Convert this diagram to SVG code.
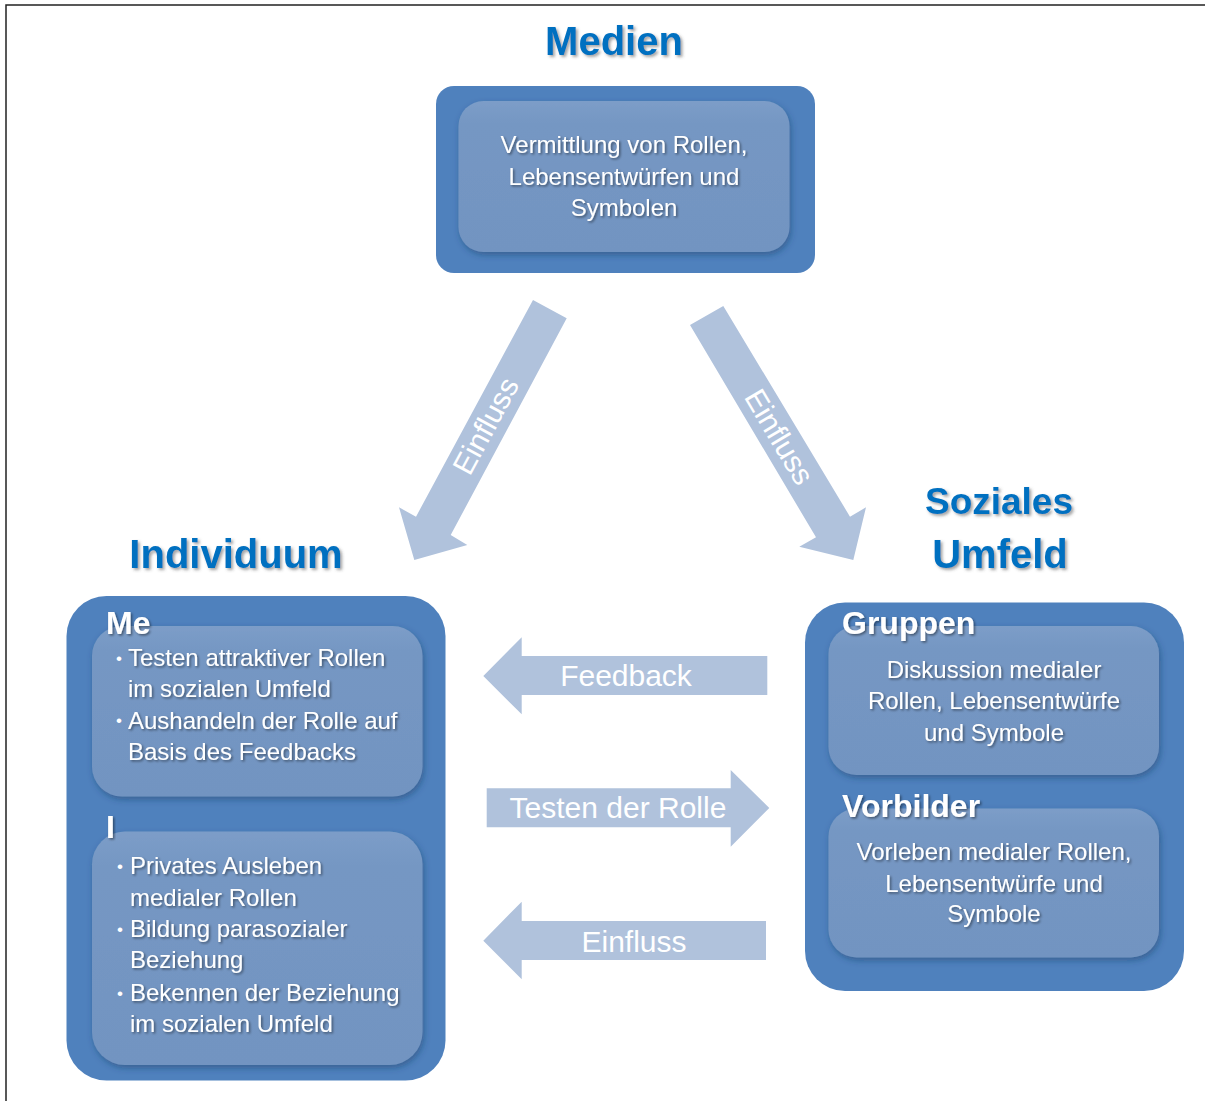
<svg xmlns="http://www.w3.org/2000/svg" width="1205" height="1101" viewBox="0 0 1205 1101">
  <style>
    .outer { fill: #4f81bd; }
    .inner { fill: url(#innerGrad); filter: url(#boxShadow); }
    .arrow { fill: #b0c2dc; }
    .title { font-family: "Liberation Sans", Arial, sans-serif; font-weight: bold; font-size: 40px; fill: #0070c0; filter: url(#titleShadow); text-anchor: middle; }
    .label { font-family: "Liberation Sans", Arial, sans-serif; font-weight: bold; font-size: 32px; fill: #ffffff; filter: url(#textShadow); }
    .body { font-family: "Liberation Sans", Arial, sans-serif; font-size: 24px; fill: #ffffff; filter: url(#textShadow); }
    .center { text-anchor: middle; }
    .bullet { font-family: "Liberation Sans", Arial, sans-serif; font-size: 17px; fill: #ffffff; }
    .atext { font-family: "Liberation Sans", Arial, sans-serif; font-size: 30px; fill: #ffffff; text-anchor: middle; }
  </style>
  <defs>
    <linearGradient id="innerGrad" x1="0" y1="0" x2="0" y2="1">
      <stop offset="0" stop-color="#7c9dc8"/>
      <stop offset="0.15" stop-color="#7597c3"/>
      <stop offset="1" stop-color="#7294c1"/>
    </linearGradient>
    <filter id="boxShadow" x="-10%" y="-10%" width="120%" height="125%">
      <feDropShadow dx="1.5" dy="3" stdDeviation="3" flood-color="#1d3a63" flood-opacity="0.45"/>
    </filter>
    <filter id="textShadow" x="-10%" y="-30%" width="120%" height="160%">
      <feDropShadow dx="1.5" dy="1.5" stdDeviation="1.2" flood-color="#000000" flood-opacity="0.45"/>
    </filter>
    <filter id="titleShadow" x="-10%" y="-30%" width="120%" height="160%">
      <feDropShadow dx="2" dy="2" stdDeviation="1.5" flood-color="#444444" flood-opacity="0.5"/>
    </filter>
  </defs>

  <rect x="0" y="0" width="1205" height="1101" fill="#ffffff"/>
  <rect x="6" y="5" width="1220" height="1120" fill="none" stroke="#222222" stroke-width="1.5"/>

  <g id="connectors">
    <g id="arrow-medien-individuum">
      <polygon class="arrow" points="533,300 566.7,318.3 450.7,535 467.3,545 414.3,560 399,507.3 416,516.7"/>
      <text class="atext" transform="translate(486,426) rotate(-61.6)" y="10">Einfluss</text>
    </g>
    <g id="arrow-medien-umfeld">
      <polygon class="arrow" points="690,325 723.3,306 850,516.7 866,507.3 853.3,560 799.3,546.7 816,537.3"/>
      <text class="atext" transform="translate(779,437) rotate(59.2)" y="10">Einfluss</text>
    </g>
    <g id="arrow-feedback">
      <polygon class="arrow" points="767.3,656 521.7,656 521.7,637.3 483.3,676 521.7,714.3 521.7,695 767.3,695"/>
      <text class="atext" x="626" y="686">Feedback</text>
    </g>
    <g id="arrow-testen">
      <polygon class="arrow" points="486.7,788.3 730.7,788.3 730.7,770 769.3,808 730.7,846.7 730.7,827.3 486.7,827.3"/>
      <text class="atext" x="618" y="818">Testen der Rolle</text>
    </g>
    <g id="arrow-einfluss">
      <polygon class="arrow" points="766,921 521.7,921 521.7,901.7 483.3,940.7 521.7,979.3 521.7,960 766,960"/>
      <text class="atext" x="634" y="951.5">Einfluss</text>
    </g>
  </g>

  <g id="medien">
    <text class="title" x="614" y="55">Medien</text>
    <rect class="outer" x="436" y="86" width="379" height="187" rx="18"/>
    <rect class="inner" x="458.5" y="101" width="331" height="151" rx="25"/>
    <text class="body center" x="624" y="153">Vermittlung von Rollen,</text>
    <text class="body center" x="624" y="185">Lebensentwürfen und</text>
    <text class="body center" x="624" y="216">Symbolen</text>
  </g>

  <g id="individuum">
    <text class="title" x="236" y="568">Individuum</text>
    <rect class="outer" x="66.5" y="596" width="379" height="484.5" rx="40"/>
    <g id="me">
      <rect class="inner" x="92" y="626" width="330.5" height="170.5" rx="30"/>
      <text class="label" x="106" y="633.5">Me</text>
      <text class="bullet" x="116" y="664">•</text>
      <text class="body" x="128" y="666">Testen attraktiver Rollen</text>
      <text class="body" x="128" y="697">im sozialen Umfeld</text>
      <text class="bullet" x="116" y="726">•</text>
      <text class="body" x="128" y="728.5">Aushandeln der Rolle auf</text>
      <text class="body" x="128" y="760">Basis des Feedbacks</text>
    </g>
    <g id="i">
      <rect class="inner" x="92" y="831.5" width="330.5" height="233.5" rx="33"/>
      <text class="label" x="106" y="838">I</text>
      <text class="bullet" x="117" y="872">•</text>
      <text class="body" x="130" y="874">Privates Ausleben</text>
      <text class="body" x="130" y="905.5">medialer Rollen</text>
      <text class="bullet" x="117" y="934.5">•</text>
      <text class="body" x="130" y="936.5">Bildung parasozialer</text>
      <text class="body" x="130" y="968">Beziehung</text>
      <text class="bullet" x="117" y="998.5">•</text>
      <text class="body" x="130" y="1000.5">Bekennen der Beziehung</text>
      <text class="body" x="130" y="1031.5">im sozialen Umfeld</text>
    </g>
  </g>

  <g id="soziales-umfeld">
    <text class="title" x="999" y="514" style="font-size:37px">Soziales</text>
    <text class="title" x="1000" y="568">Umfeld</text>
    <rect class="outer" x="805" y="602.5" width="379" height="388.5" rx="40"/>
    <g id="gruppen">
      <rect class="inner" x="828.5" y="626" width="330.5" height="149" rx="28"/>
      <text class="label" x="842" y="633.5">Gruppen</text>
      <text class="body center" x="994" y="677.5">Diskussion medialer</text>
      <text class="body center" x="994" y="709">Rollen, Lebensentwürfe</text>
      <text class="body center" x="994" y="740.5">und Symbole</text>
    </g>
    <g id="vorbilder">
      <rect class="inner" x="828.5" y="808.5" width="330.5" height="149" rx="28"/>
      <text class="label" x="842" y="816.5">Vorbilder</text>
      <text class="body center" x="994" y="859.5">Vorleben medialer Rollen,</text>
      <text class="body center" x="994" y="891.5">Lebensentwürfe und</text>
      <text class="body center" x="994" y="921.5">Symbole</text>
    </g>
  </g>
</svg>
